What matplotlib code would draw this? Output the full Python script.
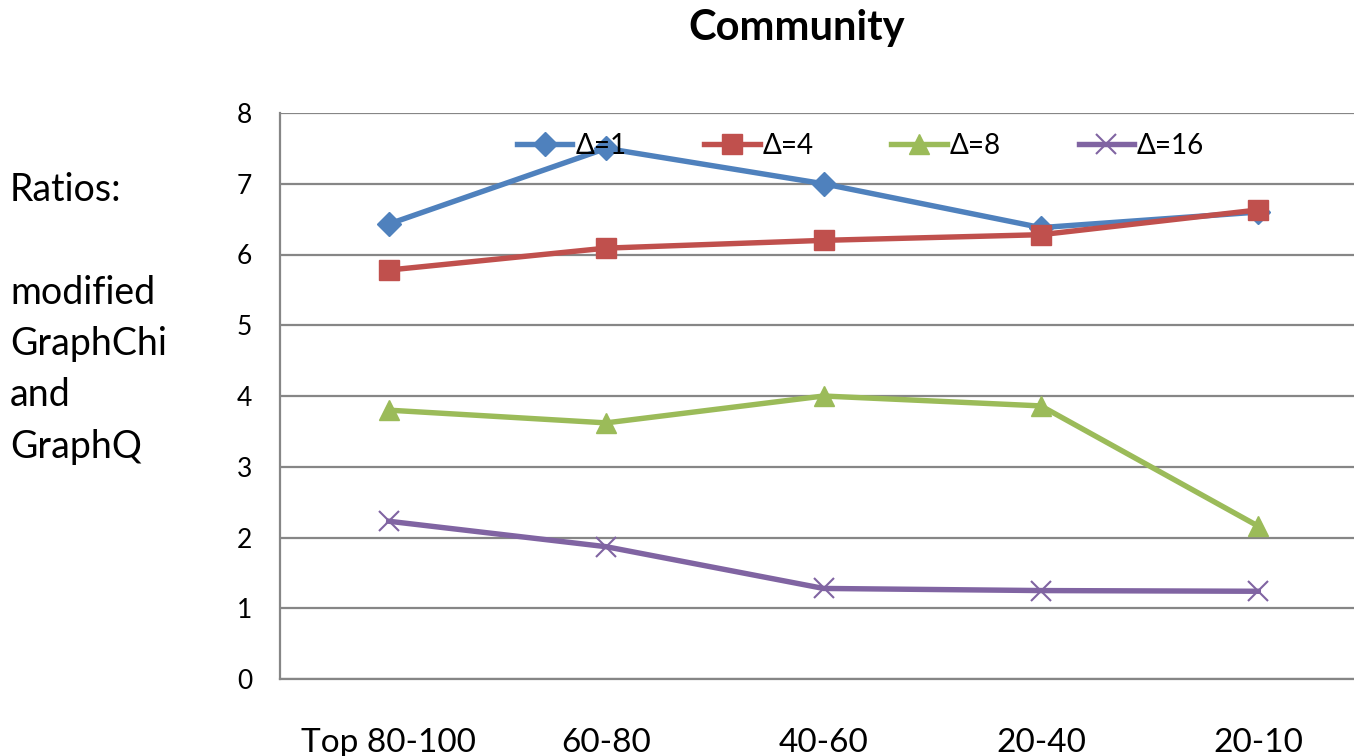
import matplotlib.pyplot as plt

plt.rcParams['font.family'] = ['Lato', 'DejaVu Sans']

# 数据
categories = ['Top 80-100', '60-80', '40-60', '20-40', '20-10']
delta1 = [6.43, 7.50, 7.00, 6.38, 6.60]
delta4 = [5.78, 6.09, 6.20, 6.28, 6.63]
delta8 = [3.80, 3.62, 4.00, 3.86, 2.16]
delta16 = [2.23, 1.87, 1.28, 1.25, 1.24]


def main():
    fig = plt.figure(figsize=(13.54, 7.56), dpi=100)
    ax = fig.add_axes([280 / 1354, 1 - 679 / 756, 1087 / 1354, 566 / 756])

    x = range(len(categories))
    ax.plot(x, delta1, '-D', color='#4F81BD', lw=3.9, ms=12, label='Δ=1')
    ax.plot(x, delta4, '-s', color='#C0504D', lw=3.9, ms=14, label='Δ=4')
    ax.plot(x, delta8, '-^', color='#9BBB59', lw=3.9, ms=14, label='Δ=8')
    ax.plot(x, delta16, '-x', color='#8064A2', lw=3.9, ms=15, mew=1.5, label='Δ=16')

    ax.set_xlim(-0.5, len(categories) - 0.5)
    ax.set_ylim(0, 8)
    ax.set_xticks(list(x))
    ax.set_xticklabels(categories, fontsize=24)
    ax.set_yticks(range(0, 9))
    ax.tick_params(axis='y', labelsize=19, length=0, pad=20)
    ax.tick_params(axis='x', length=0, pad=35)
    ax.yaxis.grid(True, color='#868686', lw=1.6)
    ax.set_axisbelow(True)
    for s in ['top', 'right']:
        ax.spines[s].set_visible(False)
    for s in ['left', 'bottom']:
        ax.spines[s].set_color('#868686')
        ax.spines[s].set_linewidth(1.6)

    ax.legend(loc='center', bbox_to_anchor=(0.534, 0.942), ncol=4, frameon=False,
              fontsize=20, handlelength=2.0, handletextpad=0.1, columnspacing=2.8)

    fig.text(797 / 1354, 1 - 28 / 756, 'Community', ha='center', va='center',
             fontsize=30, fontweight='bold')
    fig.text(10 / 1354, 1 - 172 / 756, 'Ratios:\n\nmodified\nGraphChi\nand\nGraphQ',
             ha='left', va='top', fontsize=27, linespacing=1.53)

    fig.savefig('out.png', dpi=100)


if __name__ == '__main__':
    main()
